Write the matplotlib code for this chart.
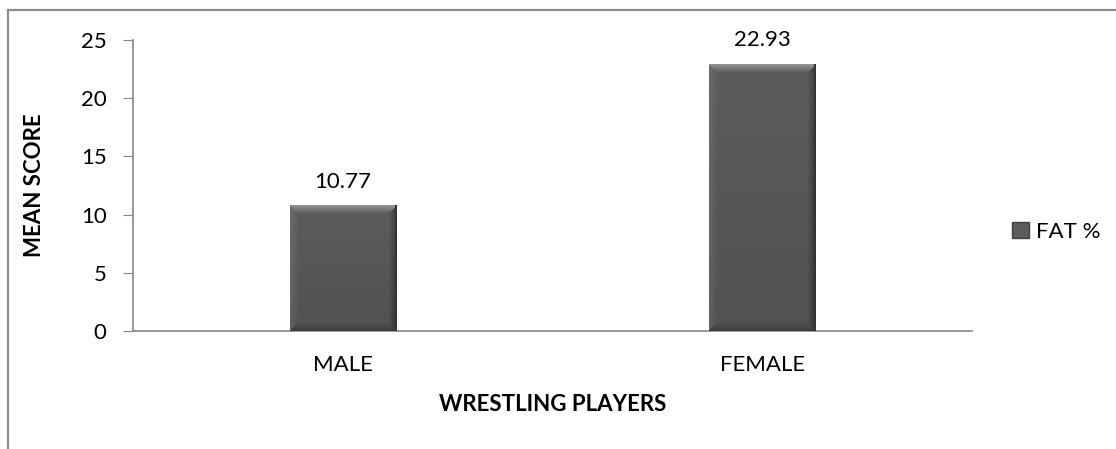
import numpy as np
import matplotlib.pyplot as plt
from matplotlib.lines import Line2D
from matplotlib.patches import Patch

categories = ['MALE', 'FEMALE']
fat_pct = [10.77, 22.93]
y_ticks = [0, 5, 10, 15, 20, 25]

W, H, DPI = 1116, 449, 100
plt.rcParams['font.family'] = ['Lato', 'DejaVu Sans']

fig = plt.figure(figsize=(W / DPI, H / DPI), dpi=DPI)
ax = fig.add_axes([133 / W, 1 - 331 / H, (972 - 133) / W, (331 - 40) / H])

x = np.arange(len(categories))
bars = ax.bar(x, fat_pct, width=0.253, color='#5a5a5a', edgecolor='none', zorder=2)
ax.set_xlim(-0.5, len(categories) - 0.5)
ax.set_ylim(0, 25)


def bevel_image(hp, wp, b=8):
    # per-pixel shading for the Excel-like bevel look
    r = np.arange(hp)[:, None] * np.ones((1, wp))
    c = np.ones((hp, 1)) * np.arange(wp)[None, :]
    dt, db, dl, dr = r, hp - 1 - r, c, wp - 1 - c
    base = 0.36 - 0.04 * (r / max(hp - 1, 1))
    img = base.copy()
    d = np.minimum(np.minimum(dt, db), np.minimum(dl, dr))
    edge = d < b
    which = np.argmin(np.stack([dt, db, dl, dr]), axis=0)
    t = 1 - d / b
    img = np.where(edge & (which == 0), base + 0.22 * t, img)
    img = np.where(edge & (which == 1), base - 0.08 * t, img)
    img = np.where(edge & (which == 2), base + 0.06 * t, img)
    img = np.where(edge & (which == 3), base - 0.12 * t, img)
    img[:, -2:] = 0.2
    img = np.clip(img, 0, 1)
    return np.dstack([img, img, img])


fig.canvas.draw()
for rect in bars:
    x0, y0 = rect.get_x(), rect.get_y()
    x1, y1 = x0 + rect.get_width(), y0 + rect.get_height()
    (px0, py0), (px1, py1) = ax.transData.transform([(x0, y0), (x1, y1)])
    hp, wp = max(int(round(py1 - py0)), 2), max(int(round(px1 - px0)), 2)
    ax.imshow(bevel_image(hp, wp), extent=(x0, x1, y0, y1), aspect='auto',
              interpolation='nearest', zorder=3)
ax.set_xlim(-0.5, len(categories) - 0.5)
ax.set_ylim(0, 25)

for xi, v in zip(x, fat_pct):
    ax.annotate(f'{v:.2f}', (xi, v), xytext=(0, 10), textcoords='offset points',
                ha='center', va='bottom', fontsize=16, color='black')

ax.set_xticks(x)
ax.set_xticklabels(categories, fontsize=16)
ax.set_yticks(y_ticks)
ax.set_yticklabels([str(t) for t in y_ticks], fontsize=16)
ax.tick_params(axis='x', length=0, pad=17)
ax.tick_params(axis='y', length=7, color='#868686', pad=12)
for s in ['top', 'right']:
    ax.spines[s].set_visible(False)
for s in ['left', 'bottom']:
    ax.spines[s].set_color('#868686')
    ax.spines[s].set_linewidth(1.2)

ax.set_xlabel('WRESTLING PLAYERS', fontsize=16, fontweight='bold', labelpad=14)
ax.set_ylabel('MEAN SCORE', fontsize=16, fontweight='bold', labelpad=26)

handle = Patch(facecolor='#5c5c5c', edgecolor='#404040', linewidth=1.0)
fig.legend([handle], ['FAT %'], loc='center left', bbox_to_anchor=(1012 / W, 1 - 232 / H),
           frameon=False, fontsize=16, handlelength=0.75, handleheight=0.75,
           handletextpad=0.35, borderpad=0, borderaxespad=0)

# outer chart border (only top and left are visible in the crop)
fig.add_artist(Line2D([8 / W, 8 / W], [0, 1 - 10 / H], transform=fig.transFigure,
                      color='#8c8c8c', lw=1.6))
fig.add_artist(Line2D([8 / W, 1], [1 - 10 / H, 1 - 10 / H], transform=fig.transFigure,
                      color='#8c8c8c', lw=1.6))

fig.savefig('out.png', dpi=DPI, facecolor='white')
